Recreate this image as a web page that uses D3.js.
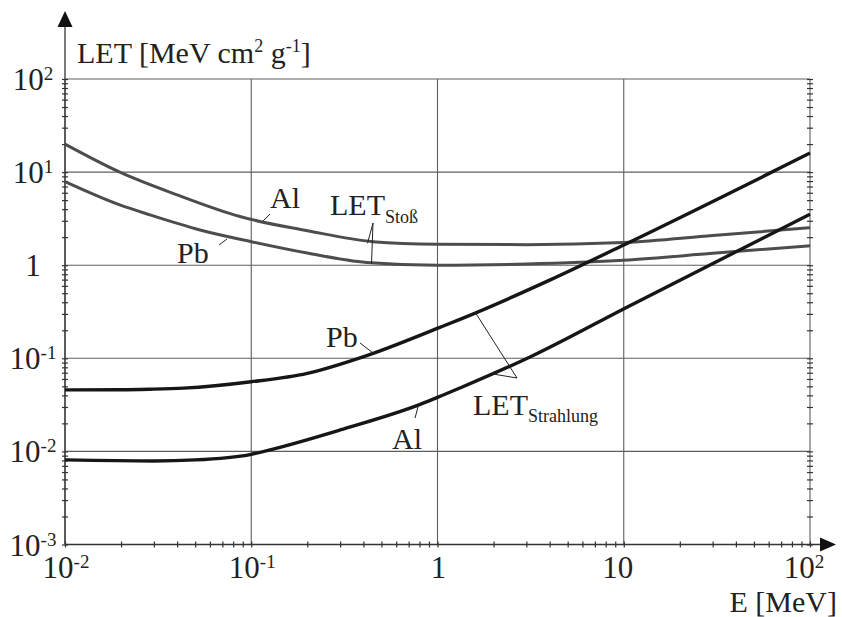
<!DOCTYPE html>
<html>
<head>
<meta charset="utf-8">
<script src="https://cdn.jsdelivr.net/npm/d3@7"></script>
<style>
  html, body { margin: 0; padding: 0; background: #fff; }
  svg { display: block; }
  text { fill: #222; }
</style>
</head>
<body>
<svg id="chart" width="842" height="617" font-family="'Liberation Serif', 'Times New Roman', Times, serif"></svg>
<script>
// Energy (MeV) and LET (MeV cm² g⁻¹) for each curve
const stossAlE   = [0.01, 0.0197, 0.04, 0.087, 0.2, 0.45, 1.0, 3.0, 10, 30, 100];
const stossAlLET = [20, 10, 5.7, 3.33, 2.35, 1.79, 1.68, 1.66, 1.75, 2.08, 2.53];

const stossPbE   = [0.01, 0.0197, 0.0286, 0.0531, 0.1, 0.2, 0.417, 1.0, 3.0, 10, 30, 100];
const stossPbLET = [7.9, 4.44, 3.47, 2.39, 1.79, 1.35, 1.07, 1.0, 1.03, 1.13, 1.34, 1.62];

const strahlPbE   = [0.01, 0.02, 0.0286, 0.0432, 0.1, 0.2, 0.417, 1.03, 1.32, 4.03, 10, 100];
const strahlPbLET = [0.0458, 0.0459, 0.0465, 0.0478, 0.056, 0.069, 0.107, 0.215, 0.262, 0.695, 1.65, 16];

const strahlAlE   = [0.01, 0.03, 0.05, 0.1, 0.131, 0.3, 0.807, 1.0, 1.32, 3.16, 10.4, 100];
const strahlAlLET = [0.0081, 0.0079, 0.0081, 0.0093, 0.0106, 0.017, 0.032, 0.038, 0.048, 0.104, 0.354, 3.53];

// Axis decades and their labels (mantissa, exponent)
const xDecades = [0.01, 0.1, 1, 10, 100];
const xTickLabels = [["10", "-2"], ["10", "-1"], ["1", ""], ["10", ""], ["10", "2"]];
const yDecades = [0.001, 0.01, 0.1, 1, 10, 100];
const yTickLabels = [["10", "-3"], ["10", "-2"], ["10", "-1"], ["1", ""], ["10", "1"], ["10", "2"]];

const svg = d3.select("#chart");

const x = d3.scaleLog().domain([0.01, 100]).range([65, 810]);
const y = d3.scaleLog().domain([0.001, 100]).range([544.5, 79]);

const minorVals = d => {
  const out = [];
  for (let i = 0; i < d.length - 1; i++) for (let k = 1; k < 10; k++) out.push(d[i] * k);
  out.push(d[d.length - 1]);
  return out;
};

// Grid
const grid = svg.append("g").attr("stroke", "#5e5e5e").attr("stroke-width", 1.1);
grid.selectAll("line.v").data(xDecades).join("line")
  .attr("x1", d => x(d)).attr("x2", d => x(d))
  .attr("y1", y(100)).attr("y2", y(0.001));
grid.selectAll("line.h").data(yDecades).join("line")
  .attr("y1", d => y(d)).attr("y2", d => y(d))
  .attr("x1", x(0.01)).attr("x2", x(100));

// Minor ticks crossing the left, right and bottom edges
function crossTicks(axisGen, translate, horizontal) {
  const g = svg.append("g").attr("transform", translate).call(axisGen);
  g.select(".domain").remove();
  g.selectAll(".tick text").remove();
  g.selectAll(".tick line").attr("stroke", "#333").attr("stroke-width", 1.2);
  if (horizontal) g.selectAll(".tick line").attr("y1", -3).attr("y2", 3);
  else g.selectAll(".tick line").attr("x1", -3).attr("x2", 3);
}
crossTicks(d3.axisLeft(y).tickValues(minorVals(yDecades)).tickFormat(""), `translate(${x(0.01)},0)`, false);
crossTicks(d3.axisRight(y).tickValues(minorVals(yDecades)).tickFormat(""), `translate(${x(100)},0)`, false);
crossTicks(d3.axisBottom(x).tickValues(minorVals(xDecades)).tickFormat(""), `translate(0,${y(0.001)})`, true);

// Axis lines with arrowheads
const ax = svg.append("g").attr("stroke", "#333").attr("stroke-width", 1.3);
ax.append("line").attr("x1", x(0.01)).attr("x2", x(0.01)).attr("y1", y(0.001)).attr("y2", 26);
ax.append("line").attr("x1", x(0.01)).attr("x2", 820).attr("y1", y(0.001)).attr("y2", y(0.001));
svg.append("path").attr("fill", "#111")
  .attr("d", `M${x(0.01)},11 L${x(0.01) - 7.5},27 L${x(0.01) + 7.5},27 Z`);
svg.append("path").attr("fill", "#111")
  .attr("d", `M836,${y(0.001)} L820,${y(0.001) - 7} L820,${y(0.001) + 7} Z`);

// Curves
const line = d3.line().x(d => x(d[0])).y(d => y(d[1])).curve(d3.curveMonotoneX);
const series = [
  { e: stossAlE, v: stossAlLET, color: "#4d4d4d", w: 3 },
  { e: stossPbE, v: stossPbLET, color: "#4d4d4d", w: 3 },
  { e: strahlPbE, v: strahlPbLET, color: "#161616", w: 3.4 },
  { e: strahlAlE, v: strahlAlLET, color: "#161616", w: 3.4 }
];
svg.append("g").selectAll("path").data(series).join("path")
  .attr("fill", "none")
  .attr("stroke", d => d.color)
  .attr("stroke-width", d => d.w)
  .attr("stroke-linejoin", "round")
  .attr("d", d => line(d.e.map((e, i) => [e, d.v[i]])));

// Tick labels
const tickFont = 31, supFont = 19;
function tickLabel(sel, parts) {
  sel.append("tspan").text(parts[0]);
  if (parts[1]) sel.append("tspan").attr("font-size", supFont).attr("dy", -10).text(parts[1]);
}
yDecades.forEach((d, i) => {
  svg.append("text").attr("x", 33).attr("y", y(d) + 11)
    .attr("text-anchor", "middle").attr("font-size", tickFont)
    .call(tickLabel, yTickLabels[i]);
});
xDecades.forEach((d, i) => {
  svg.append("text").attr("x", x(d) + (i >= 3 ? -6 : 1)).attr("y", 578)
    .attr("text-anchor", "middle").attr("font-size", tickFont)
    .call(tickLabel, xTickLabels[i]);
});

// Axis titles
const yTitle = svg.append("text").attr("x", 77).attr("y", 63).attr("font-size", 30);
yTitle.append("tspan").text("LET [MeV cm");
yTitle.append("tspan").attr("font-size", 18).attr("dy", -11).text("2");
yTitle.append("tspan").attr("dy", 11).text(" g");
yTitle.append("tspan").attr("font-size", 18).attr("dy", -11).text("-1");
yTitle.append("tspan").attr("dy", 11).text("]");

svg.append("text").attr("x", 837).attr("y", 612).attr("text-anchor", "end")
  .attr("font-size", 30).text("E [MeV]");

// Curve annotations
const ann = svg.append("g").attr("font-size", 30);
ann.append("text").attr("x", 270).attr("y", 208).text("Al");
ann.append("text").attr("x", 177).attr("y", 263).text("Pb");
ann.append("text").attr("x", 326).attr("y", 347).text("Pb");
ann.append("text").attr("x", 392).attr("y", 449).text("Al");

const stoss = ann.append("text").attr("x", 330).attr("y", 215);
stoss.append("tspan").text("LET");
stoss.append("tspan").attr("font-size", 18).attr("dy", 8).text("Stoß");

const strahl = ann.append("text").attr("x", 473).attr("y", 415);
strahl.append("tspan").text("LET");
strahl.append("tspan").attr("font-size", 18).attr("dy", 7).text("Strahlung");

// Leader lines from labels to curves
const leaders = svg.append("g").attr("stroke", "#222").attr("stroke-width", 1).attr("fill", "none");
leaders.append("path").attr("d", "M270,214 L263,221");
leaders.append("path").attr("d", "M227,239 L219,245");
leaders.append("path").attr("d", "M360,343 L373,353");
leaders.append("path").attr("d", "M418,407 L415,418");
leaders.append("path").attr("d", `M367.5,${y(1.72)} L373,223 L371.5,${y(1.03)}`);
leaders.append("path").attr("d", "M475,312 L517,378 L493,374");
</script>
</body>
</html>
